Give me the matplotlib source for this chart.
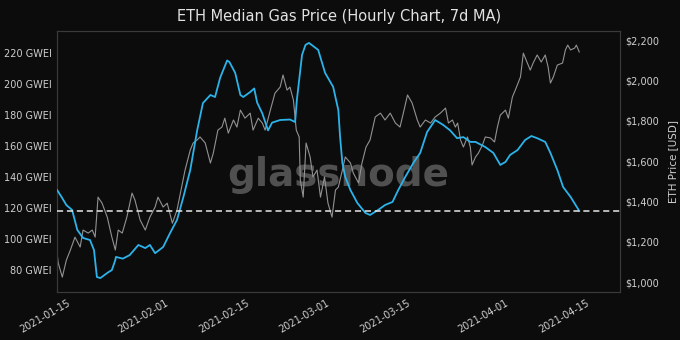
import matplotlib
matplotlib.use("Agg")
import matplotlib.pyplot as plt
import matplotlib.dates as mdates
import pandas as pd

start = pd.Timestamp("2021-01-15")

# gas price 7d MA (GWEI), days since 2021-01-15
gas_days = [-2.6, -1.8, -1.0, 0.0, 0.9, 1.9, 3.1, 3.8, 4.3, 4.9, 6.1, 6.9, 7.5, 7.6,
            8.8, 10.0, 11.5, 12.7, 13.5, 14.4, 15.8, 17.0, 18.2, 19.3, 20.5, 21.7,
            22.7, 24.0, 24.8, 25.7, 26.9, 27.3, 28.3, 29.2, 29.7, 30.9, 31.6, 32.1,
            33.0, 34.0, 34.7, 36.1, 37.8, 38.7, 39.0, 39.9, 40.5, 41.1, 42.7, 43.9,
            45.3, 46.2, 46.5, 46.9, 47.4, 48.3, 49.5, 50.9, 51.7, 53.1, 54.3, 55.6,
            56.6, 57.8, 59.2, 60.4, 61.6, 63.0, 64.4, 65.6, 66.8, 67.9, 69.1, 70.0,
            71.7, 73.1, 74.3, 75.2, 76.0, 77.3, 78.6, 79.7, 80.7, 82.1, 83.0, 84.2,
            85.2, 86.5, 88.0]
gas = [131.6, 127.0, 122.0, 118.8, 106.0, 100.8, 99.5, 93.0, 75.7, 75.0, 78.3, 80.2,
       86.6, 88.6, 87.5, 89.8, 96.3, 94.3, 96.3, 91.0, 95.0, 104.0, 112.4, 127.0,
       144.5, 170.0, 187.6, 192.8, 191.5, 204.0, 215.0, 214.0, 207.0, 192.8, 191.5,
       194.7, 197.0, 188.0, 181.0, 170.0, 175.0, 176.7, 177.0, 175.4, 189.6, 218.6,
       225.0, 226.3, 221.8, 207.0, 198.0, 183.0, 165.8, 149.0, 140.0, 131.6, 123.3,
       116.9, 115.6, 118.8, 122.0, 124.0, 131.7, 140.0, 149.0, 155.5, 169.0, 176.7,
       173.5, 170.0, 165.0, 165.7, 162.6, 162.6, 159.3, 155.5, 147.8, 149.7, 154.2,
       157.4, 163.8, 166.4, 165.0, 162.6, 155.5, 144.5, 133.6, 127.2, 118.2]

# ETH price (USD), days since 2021-01-15
eth_days = [-2.6, -2.4, -1.7, -1.0, -0.3, 0.5, 1.4, 1.9, 2.8, 3.5, 4.0, 4.5, 5.2, 6.1,
            6.9, 7.5, 8.0, 8.7, 9.5, 10.4, 10.9, 11.8, 12.7, 13.5, 14.4, 14.9, 15.8,
            16.5, 17.4, 18.2, 18.8, 19.6, 20.5, 21.0, 21.7, 22.2, 23.1, 24.0, 24.5,
            25.3, 26.0, 26.5, 27.1, 28.0, 28.6, 29.2, 30.0, 30.9, 31.4, 32.3, 33.0,
            33.5, 34.4, 35.2, 36.1, 36.6, 37.3, 37.8, 38.4, 38.9, 39.4, 39.6, 40.1,
            40.6, 41.3, 41.8, 42.5, 43.1, 43.8, 44.4, 45.1, 45.7, 46.2, 46.9, 47.4,
            48.3, 48.8, 49.7, 50.3, 51.0, 51.7, 52.6, 53.5, 54.3, 55.2, 56.1, 56.9,
            57.6, 58.2, 59.0, 59.9, 60.4, 61.3, 62.2, 63.0, 63.9, 64.8, 65.3, 66.0,
            66.5, 66.9, 67.4, 67.9, 68.6, 69.1, 69.4, 70.0, 70.5, 71.2, 71.7, 72.6,
            73.3, 73.8, 74.3, 75.2, 75.7, 76.4, 76.9, 77.8, 78.3, 79.0, 79.5, 80.0,
            80.7, 81.4, 82.1, 82.6, 83.0, 83.5, 84.2, 85.1, 85.6, 86.0, 86.5, 87.2,
            87.5, 88.0]
eth = [1143, 1095, 1026, 1110, 1160, 1224, 1175, 1259, 1244, 1259, 1224, 1422, 1392,
       1323, 1224, 1160, 1259, 1244, 1323, 1442, 1408, 1309, 1259, 1323, 1373, 1422,
       1373, 1392, 1293, 1358, 1442, 1556, 1655, 1690, 1705, 1720, 1690, 1591, 1640,
       1754, 1769, 1813, 1739, 1804, 1769, 1853, 1813, 1838, 1754, 1813, 1789, 1754,
       1853, 1937, 1967, 2027, 1952, 1967, 1903, 1754, 1720, 1507, 1422, 1690, 1621,
       1522, 1556, 1422, 1522, 1392, 1323, 1457, 1472, 1556, 1621, 1591, 1541, 1492,
       1591, 1670, 1705, 1819, 1838, 1804, 1838, 1789, 1769, 1853, 1928, 1888, 1804,
       1769, 1804, 1789, 1819, 1838, 1863, 1789, 1804, 1769, 1789, 1705, 1670, 1720,
       1670, 1581, 1621, 1640, 1680, 1720, 1715, 1695, 1769, 1828, 1853, 1813, 1918,
       1952, 2017, 2135, 2086, 2051, 2086, 2126, 2091, 2126, 2066, 1987, 2017, 2076,
       2086, 2151, 2175, 2151, 2160, 2175, 2141]

current_gas = 118.2
gas_ticks = [80, 100, 120, 140, 160, 180, 200, 220]
eth_ticks = [1000, 1200, 1400, 1600, 1800, 2000, 2200]
date_ticks = ["2021-01-15", "2021-02-01", "2021-02-15", "2021-03-01",
              "2021-03-15", "2021-04-01", "2021-04-15"]

bg = "#0c0c0c"
txt = "#cfcfcf"

gas_t = start + pd.to_timedelta(gas_days, unit="D")
eth_t = start + pd.to_timedelta(eth_days, unit="D")

fig = plt.figure(figsize=(6.8, 3.4), dpi=100, facecolor=bg)
ax2 = fig.add_axes([0.084, 0.141, 0.828, 0.768])
ax = ax2.twinx()
ax2.set_facecolor(bg)
ax.patch.set_visible(False)

# watermark
ax2.text(0.5, 0.45, "glassnode", transform=ax2.transAxes, ha="center", va="center",
         fontsize=28, fontweight="semibold", color="#505050", zorder=0)

ax2.plot(eth_t, eth, color="#929292", lw=0.8, zorder=2)
ax.plot(gas_t, gas, color="#2bb3ea", lw=1.3, zorder=3)
ax.axhline(current_gas, color="#e6e6e6", lw=1.1, ls=(0, (4, 2.5)), zorder=4)

# left axis is gas, right axis is price
ax.yaxis.tick_left()
ax.yaxis.set_label_position("left")
ax2.yaxis.tick_right()
ax2.yaxis.set_label_position("right")

ax.set_ylim(66, 234)
ax2.set_ylim(952, 2245)
ax2.set_xlim(start - pd.Timedelta(days=2.6), start + pd.Timedelta(days=95.1))

ax.set_yticks(gas_ticks)
ax.set_yticklabels([f"{v} GWEI" for v in gas_ticks])
ax2.set_yticks(eth_ticks)
ax2.set_yticklabels([f"${v:,}" for v in eth_ticks])
ax2.set_xticks(pd.to_datetime(date_ticks))
ax2.xaxis.set_major_formatter(mdates.DateFormatter("%Y-%m-%d"))
for lbl in ax2.get_xticklabels():
    lbl.set_rotation(30)
    lbl.set_ha("right")

for a in (ax, ax2):
    a.tick_params(colors=txt, labelsize=7, length=0, pad=4)
    for s in a.spines.values():
        s.set_color("#3a3a3a")
        s.set_linewidth(0.8)

ax2.set_ylabel("ETH Price [USD]", color=txt, fontsize=7.5, labelpad=6)
ax2.set_title("ETH Median Gas Price (Hourly Chart, 7d MA)", color="#e2e2e2",
              fontsize=10.5, pad=7)

fig.savefig("out.png", dpi=100, facecolor=bg)
